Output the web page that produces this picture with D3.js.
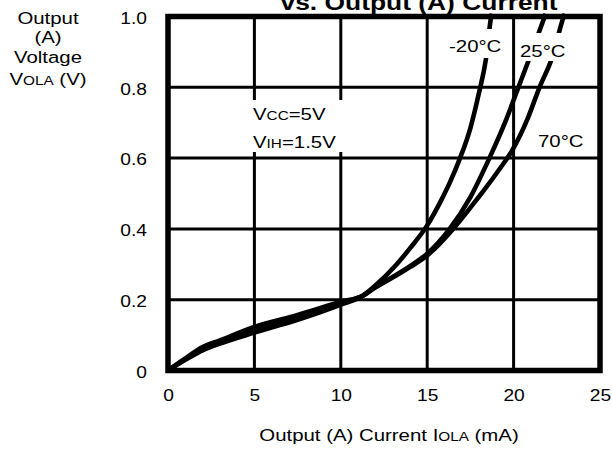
<!DOCTYPE html>
<html>
<head>
<meta charset="utf-8">
<script src="https://cdn.jsdelivr.net/npm/d3@7"></script>
<style>
  body { margin: 0; background: #fff; }
  text { font-family: "Liberation Sans", Arial, sans-serif; fill: #000; }
</style>
</head>
<body>
<div id="chart-area"></div>
<script>
const width = 612;
const height = 450;
const margin = { top: 16.5, right: 12, bottom: 79.5, left: 168 };

// readings: current (mA) and voltage (V) per temperature
const iCold = [0, 1, 2, 3, 5, 7.5, 10, 11.3, 12, 13.2, 14, 15, 15.8, 16.3, 16.9, 17.5, 18, 18.4, 18.7, 18.73];
const vCold = [0, 0.03, 0.057, 0.076, 0.107, 0.143, 0.186, 0.212, 0.24, 0.298, 0.345, 0.41, 0.48, 0.53, 0.6, 0.685, 0.785, 0.88, 1.0, 1.008];

const iRoom = [0, 1, 2, 3, 5, 7.5, 10, 11.3, 12, 13.2, 14, 15, 16.3, 17.5, 18.6, 19.5, 20.2, 20.9, 21.8, 21.86];
const vRoom = [0, 0.032, 0.062, 0.08, 0.115, 0.15, 0.19, 0.212, 0.235, 0.27, 0.295, 0.33, 0.4, 0.49, 0.6, 0.7, 0.79, 0.88, 1.0, 1.008];

const iHot = [0, 1, 2, 3, 5, 7.5, 10, 11.3, 12, 13.2, 14, 15, 16.5, 17.5, 18.3, 19.2, 19.9, 20.8, 21.5, 22.2, 22.9, 22.96];
const vHot = [0, 0.034, 0.066, 0.085, 0.123, 0.157, 0.194, 0.212, 0.235, 0.268, 0.292, 0.325, 0.4, 0.46, 0.51, 0.57, 0.62, 0.71, 0.8, 0.88, 1.0, 1.008];

const xTicks = [0, 5, 10, 15, 20, 25];
const xTickLabels = ["0", "5", "10", "15", "20", "25"];
const yTicks = [0, 0.2, 0.4, 0.6, 0.8, 1.0];
const yTickLabels = ["0", "0.2", "0.4", "0.6", "0.8", "1.0"];

const stretch = "scale(1.2,1)";

const svg = d3.select("#chart-area")
    .append("svg")
    .attr("width", width)
    .attr("height", height);

const x = d3.scaleLinear().domain([0, 25]).range([margin.left, width - margin.right]);
const y = d3.scaleLinear().domain([0, 1]).range([height - margin.bottom, margin.top]);

// grid
svg.append("g")
    .selectAll("line.vg")
    .data(xTicks.slice(1, -1))
    .enter().append("line")
    .attr("x1", d => x(d)).attr("x2", d => x(d))
    .attr("y1", y(0)).attr("y2", y(1))
    .attr("stroke", "#000").attr("stroke-width", 3);

svg.append("g")
    .selectAll("line.hg")
    .data(yTicks.slice(1, -1))
    .enter().append("line")
    .attr("x1", x(0)).attr("x2", x(25))
    .attr("y1", d => y(d)).attr("y2", d => y(d))
    .attr("stroke", "#000").attr("stroke-width", 3);

// curves
const line = d3.line()
    .x(d => x(d[0]))
    .y(d => y(d[1]))
    .curve(d3.curveMonotoneX);

[[iCold, vCold], [iRoom, vRoom], [iHot, vHot]].forEach(s => {
    svg.append("path")
        .datum(s[0].map((v, i) => [v, s[1][i]]))
        .attr("d", line)
        .attr("fill", "none")
        .attr("stroke", "#000")
        .attr("stroke-width", 4.6)
        .attr("stroke-linecap", "butt");
});

// frame
svg.append("rect")
    .attr("x", x(0)).attr("y", y(1))
    .attr("width", x(25) - x(0))
    .attr("height", y(0) - y(1))
    .attr("fill", "none")
    .attr("stroke", "#000")
    .attr("stroke-width", 5.5);

// axes, labels only
const xAxis = svg.append("g")
    .attr("transform", `translate(0,${y(0)})`)
    .call(d3.axisBottom(x).tickValues(xTicks).tickFormat((d, i) => xTickLabels[i]).tickSize(0));
xAxis.select(".domain").remove();
xAxis.selectAll("text")
    .attr("y", 0).attr("dy", 0)
    .attr("transform", "translate(0,30) " + stretch)
    .style("font-size", "16px")
    .style("font-family", "Liberation Sans, Arial, sans-serif");

const yAxis = svg.append("g")
    .attr("transform", `translate(${x(0)},0)`)
    .call(d3.axisLeft(y).tickValues(yTicks).tickFormat((d, i) => yTickLabels[i]).tickSize(0));
yAxis.select(".domain").remove();
yAxis.selectAll("text")
    .attr("x", 0).attr("dy", "0.36em")
    .attr("transform", "translate(-21,1) " + stretch)
    .style("font-size", "16px")
    .style("font-family", "Liberation Sans, Arial, sans-serif");

// small-caps style helper: big letter + smaller capitals
function label(g, parts, size) {
    const t = g.append("text").style("font-size", size + "px");
    parts.forEach(p => {
        t.append("tspan")
            .style("font-size", (p[1] ? size * 0.75 : size) + "px")
            .text(p[0]);
    });
    return t;
}

function placed(px, py, anchor) {
    return svg.append("g")
        .attr("transform", `translate(${px},${py}) ${stretch}`)
        .attr("text-anchor", anchor);
}

// title (cut at top as in the source)
placed(419, 9.5, "middle").append("text")
    .style("font-size", "22px")
    .style("font-weight", "bold")
    .text("vs. Output (A) Current");

// y title
const yTitleRows = [
    [["Output", false]],
    [["(A)", false]],
    [["Voltage", false]],
    [["V", false], ["OLA", true], [" (V)", false]]
];
const yTitleBase = [24, 43, 63, 85];
yTitleRows.forEach((r, i) => label(placed(48, yTitleBase[i], "middle"), r, 17));

// x title
label(placed(389, 441, "middle"),
    [["Output (A) Current I", false], ["OLA", true], [" (mA)", false]], 17);

// in-plot labels with white boxes
function box(x0, y0, x1, y1) {
    svg.append("rect")
        .attr("x", x0).attr("y", y0)
        .attr("width", x1 - x0).attr("height", y1 - y0)
        .attr("fill", "#fff");
}

box(446, 29, 506, 58);
label(placed(449, 52, "start"), [["-20°C", false]], 17);

box(516, 33, 570, 61);
label(placed(520, 57, "start"), [["25°C", false]], 17);

box(534, 128, 588, 151);
label(placed(538, 147, "start"), [["70°C", false]], 17);

box(249, 100, 345, 152);
label(placed(253, 120, "start"), [["V", false], ["CC", true], ["=5V", false]], 17);
label(placed(253, 148, "start"), [["V", false], ["IH", true], ["=1.5V", false]], 17);
</script>
</body>
</html>
